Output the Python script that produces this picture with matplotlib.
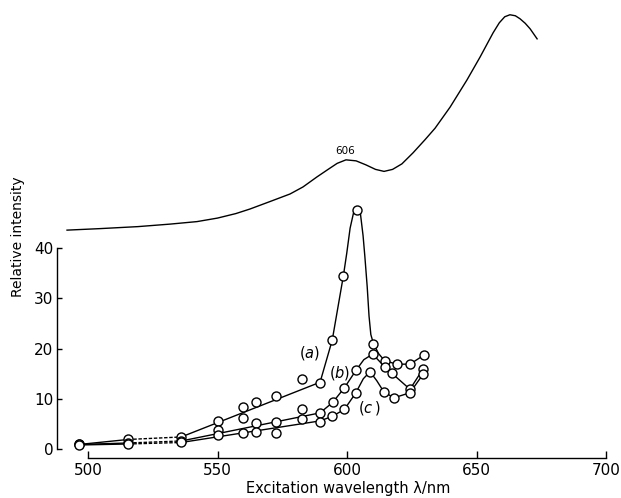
import matplotlib
matplotlib.use("Agg")
import matplotlib.pyplot as plt

# === MEASURED POINTS (excitation wavelength / nm, relative intensity) ===
a_x = [496.5, 515.5, 536, 550, 559.7, 565, 572.6, 582.5, 589.6, 594.3, 598.6, 604, 610.2, 614.5, 619.2, 624.3, 629.7]
a_y = [0.9, 1.9, 2.4, 5.6, 8.4, 9.4, 10.6, 13.9, 13.2, 21.7, 34.5, 47.7, 21.0, 17.6, 16.9, 16.9, 18.7]

b_x = [496.5, 515.5, 536, 550, 559.7, 565, 572.6, 582.5, 589.6, 594.5, 599, 603.5, 609.9, 614.5, 617.3, 624.3, 629.3]
b_y = [0.9, 1.2, 1.6, 3.7, 6.1, 5.2, 5.4, 7.9, 7.2, 9.3, 12.2, 15.7, 18.9, 16.4, 15.1, 11.9, 15.9]

c_x = [496.5, 515.5, 536, 550, 559.7, 565, 572.6, 582.5, 589.6, 594.3, 599, 603.3, 608.9, 614.2, 618.1, 624.3, 629.5]
c_y = [0.8, 1.0, 1.3, 2.7, 3.2, 3.4, 3.1, 5.9, 5.4, 6.5, 7.9, 11.1, 15.4, 11.4, 10.2, 11.2, 15.0]

# === HAND-DRAWN CURVES THROUGH THE POINTS ===
a_line_x = [536, 589.6, 594.3, 598.6, 599.9, 601.2, 602.5, 604, 605.2, 606.2, 606.9, 607.8, 608.5, 609.2, 610.2,
            612.2, 614.5, 619.2, 624.3, 629.7]
a_line_y = [2.4, 13.3, 21.7, 34.5, 39.0, 44.0, 47.0, 48.1, 46.8, 42.5, 38.3, 32.3, 26.5, 22.8, 21.0,
            19.0, 17.6, 16.9, 16.9, 18.7]

b_line_x = [536, 589.6, 594.5, 599, 603.5, 606.5, 609.9, 614.5, 617.3, 624.3, 629.3]
b_line_y = [1.6, 7.2, 9.3, 12.2, 15.7, 17.8, 18.9, 16.4, 15.1, 11.9, 15.9]

c_line_x = [536, 589.6, 594.3, 599, 603.3, 606.3, 608.9, 611.5, 614.2, 618.1, 624.3, 629.5]
c_line_y = [1.3, 5.6, 6.5, 7.9, 11.1, 14.0, 15.4, 13.6, 11.4, 10.2, 11.2, 15.0]

# === ABSORPTION SPECTRUM DRAWN ABOVE (same x scale, no own axis) ===
spec_x = [491.9, 504.6, 519.3, 531.7, 542.1, 550.0, 557.1, 562.5, 570.3, 578.0, 583.0, 588.4, 592.7, 596.2,
          599.6, 603.5, 607.3, 611.0, 614.3, 617.6, 621.2, 625.5, 630.1, 634.0, 639.8, 646.3, 651.4,
          656.4, 658.8, 660.9, 662.9, 665.0, 666.8, 668.8, 670.7, 673.4]
spec_y = [43.6, 43.9, 44.3, 44.8, 45.3, 46.0, 46.9, 47.8, 49.3, 50.8, 52.2, 54.2, 55.7, 56.9,
          57.6, 57.4, 56.6, 55.7, 55.3, 55.7, 56.8, 59.0, 61.6, 63.9, 68.1, 73.5, 78.1,
          82.9, 84.9, 86.1, 86.5, 86.3, 85.7, 84.8, 83.7, 81.7]

x_ticks = [500, 550, 600, 650, 700]
y_ticks = [0, 10, 20, 30, 40]

plt.rcParams["font.family"] = ["DejaVu Sans"]

fig = plt.figure(figsize=(6.21, 4.98), dpi=100)
ax = fig.add_axes([57 / 621, 40 / 498, 553 / 621, 458 / 498])

lw = 1.0
mk = dict(marker="o", ms=6.5, mfc="white", mec="black", mew=1.0, ls="none", zorder=3)

for xs, ys, lx, ly in [(a_x, a_y, a_line_x, a_line_y),
                       (b_x, b_y, b_line_x, b_line_y),
                       (c_x, c_y, c_line_x, c_line_y)]:
    # solid start, dashed gap, then the drawn curve
    ax.plot(xs[:2], ys[:2], color="black", lw=lw)
    ax.plot(xs[1:3], ys[1:3], color="black", lw=lw, dashes=(2.5, 1.2))
    ax.plot(lx, ly, color="black", lw=lw)
    ax.plot(xs, ys, **mk)

ax.plot(spec_x, spec_y, color="black", lw=lw)
ax.text(599.2, 59.4, "606", fontsize=7.5, ha="center", va="center")

ax.text(585.7, 19.1, r"$(\mathit{a})$", fontsize=10.5, ha="center", va="center")
ax.text(597.0, 15.2, r"$(\mathit{b})$", fontsize=10.5, ha="center", va="center")
ax.text(608.5, 8.2, r"$(\mathit{c}\,)$", fontsize=10.5, ha="center", va="center")

ax.set_xlim(488.03, 701.54)
ax.set_ylim(-1.79, 89.44)

for s in ["top", "right"]:
    ax.spines[s].set_visible(False)
ax.spines["left"].set_bounds(0, 40)
ax.spines["bottom"].set_bounds(500, 700)
ax.spines["left"].set_linewidth(1.0)
ax.spines["bottom"].set_linewidth(1.0)

ax.set_xticks(x_ticks)
ax.set_yticks(y_ticks)
ax.tick_params(axis="x", direction="in", length=5, width=1.0, pad=3.5, labelsize=11)
ax.tick_params(axis="y", direction="in", length=3.5, width=1.0, pad=2.5, labelsize=11)

fig.text(348 / 621, 1 - 488 / 498, "Excitation wavelength \u03bb/nm", fontsize=10.5, ha="center", va="center")
fig.text(18 / 621, 1 - 237 / 498, "Relative intensity", fontsize=10, rotation=90, ha="center", va="center")

fig.savefig("out.png", dpi=100)
